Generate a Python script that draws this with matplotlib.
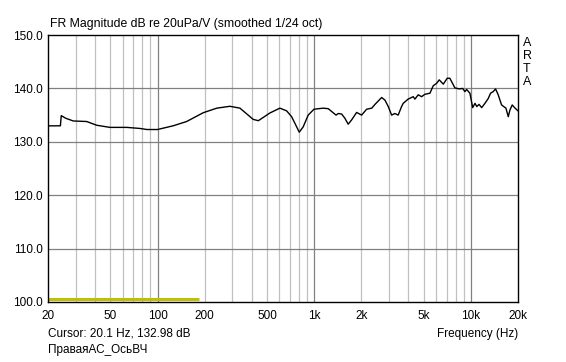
import numpy as np
import matplotlib.pyplot as plt
from matplotlib.ticker import FixedLocator, NullFormatter

plt.rcParams['font.family'] = ['Liberation Sans', 'DejaVu Sans']

freq = [20, 24.0, 24.3, 26, 29, 35.3, 40.9, 49.7, 63.6, 77.3, 85.6, 100, 126, 153.5, 196,
        239, 290, 336, 408, 440, 522, 604, 667, 718, 773, 803, 851, 916, 997, 1143,
        1230, 1379, 1425, 1497, 1571, 1649, 1734, 1866, 2008, 2162, 2330, 2443, 2697,
        2831, 2972, 3121, 3275, 3437, 3613, 3699, 3981, 4287, 4396, 4614, 4850, 5092,
        5483, 5754, 6048, 6284, 6670, 7066, 7345, 7909, 8433, 8861, 9172, 9397, 9863,
        10278, 10630, 10917, 11280, 11730, 12300, 12910, 13370, 13890, 14390, 14950,
        15710, 16740, 17340, 17760, 18370, 19150, 20000]
db = [132.98, 133.0, 134.9, 134.4, 133.9, 133.8, 133.1, 132.7, 132.7, 132.5, 132.3, 132.3,
      133.0, 133.8, 135.45, 136.3, 136.65, 136.3, 134.2, 133.95, 135.4, 136.3, 135.8,
      134.7, 132.8, 131.8, 132.8, 135.0, 136.1, 136.3, 136.2, 135.0, 135.3, 135.2, 134.4,
      133.3, 134.1, 135.5, 135.0, 136.1, 136.3, 137.0, 138.3, 137.8, 136.6, 135.0, 135.3,
      135.0, 136.6, 137.2, 138.0, 138.45, 138.0, 138.8, 138.45, 138.9, 139.1, 140.5,
      140.95, 141.6, 140.8, 141.9, 141.9, 140.1, 139.9, 140.0, 139.4, 139.8, 139.1, 136.4,
      137.2, 136.6, 137.0, 136.4, 137.2, 138.1, 139.1, 139.4, 139.9, 138.8, 136.9, 136.3,
      134.7, 135.95, 136.9, 136.3, 135.8]

# Barre du marqueur en bas
marker_f = [20, 185]
marker_db = [100.6, 100.6]

xticks = [20, 50, 100, 200, 500, 1000, 2000, 5000, 10000, 20000]
xlabels = ['20', '50', '100', '200', '500', '1k', '2k', '5k', '10k', '20k']
yticks = [100, 110, 120, 130, 140, 150]
minor = [30, 40, 50, 60, 70, 80, 90, 200, 300, 400, 500, 600, 700, 800, 900,
         2000, 3000, 4000, 5000, 6000, 7000, 8000, 9000]

fig = plt.figure(figsize=(5.66, 3.62), dpi=100)
ax = fig.add_axes([48/566, 1-302/362, 470/566, 267/362])
ax.set_xscale('log')
ax.set_xlim(20, 20000)
ax.set_ylim(100, 150)

# grille
for f in minor:
    ax.axvline(f, color='#c0c0c0', lw=0.9, zorder=1)
for f in [100, 1000, 10000]:
    ax.axvline(f, color='#808080', lw=0.9, zorder=1)
for y in yticks[1:-1]:
    ax.axhline(y, color='#808080', lw=0.9, zorder=1)

ax.plot(marker_f, marker_db, color='#c0c000', lw=2.2, zorder=2, solid_capstyle='butt')
ax.plot(freq, db, color='black', lw=1.0, zorder=3)

ax.xaxis.set_major_locator(FixedLocator(xticks))
ax.xaxis.set_minor_formatter(NullFormatter())
ax.set_xticks(xticks)
ax.set_xticklabels(xlabels)
ax.set_yticks(yticks)
ax.set_yticklabels(['%.1f' % v for v in yticks])
ax.tick_params(axis='both', which='both', length=0, labelsize=8.5, pad=6)
ax.tick_params(axis='y', pad=4)
for s in ax.spines.values():
    s.set_linewidth(1.0)

fig.text(50/566, 1-24/362, 'FR Magnitude dB re 20uPa/V (smoothed 1/24 oct)',
         fontsize=8.8, va='center', ha='left')
fig.text(48/566, 1-334/362, 'Cursor: 20.1 Hz, 132.98 dB', fontsize=8.5, va='center')
fig.text(48/566, 1-350/362, 'ПраваяАС_ОсьВЧ', fontsize=8.5, va='center')
fig.text(518/566, 1-334/362, 'Frequency (Hz)', fontsize=8.5, va='center', ha='right')
for i, c in enumerate('ARTA'):
    fig.text(527/566, 1-(43 + 13*i)/362, c, fontsize=9, va='center', ha='center')

plt.savefig('out.png', dpi=100)
